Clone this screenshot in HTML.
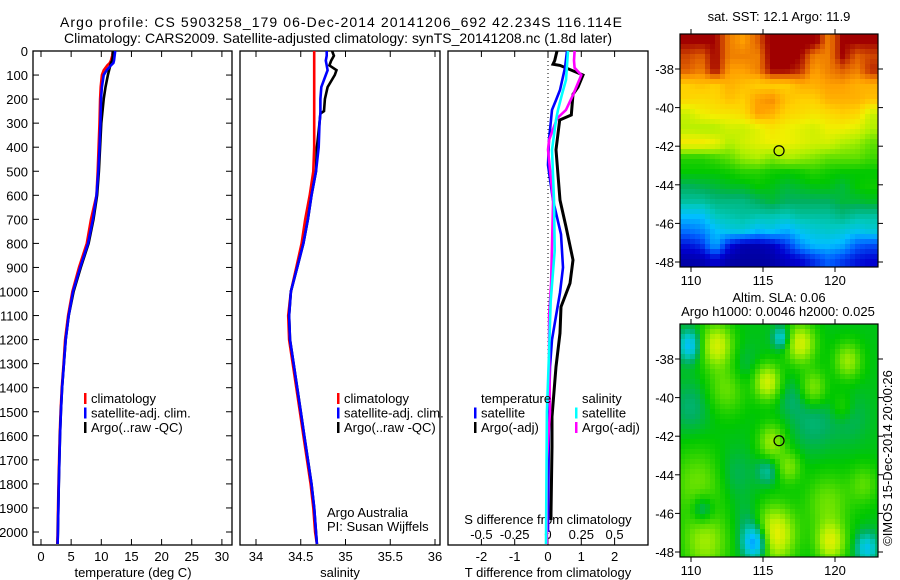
<!DOCTYPE html>
<html><head><meta charset="utf-8"><style>
html,body{margin:0;padding:0;background:#fff;}
svg{display:block;font-family:"Liberation Sans",sans-serif;}
text{font-size:13px;fill:#000;}
</style></head><body>
<svg id="chart" width="900" height="580" viewBox="0 0 900 580" xmlns="http://www.w3.org/2000/svg">
<text x="60" y="27" textLength="562" style="font-size:14px">Argo profile: CS 5903258_179 06-Dec-2014 20141206_692 42.234S 116.114E</text>
<text x="64" y="43" textLength="548" style="font-size:14px">Climatology: CARS2009. Satellite-adjusted climatology: synTS_20141208.nc (1.8d later)</text>
<g id="g"></g>
</svg>
<script>
// ---------- data ----------
const depthTicks=[0,100,200,300,400,500,600,700,800,900,1000,1100,1200,1300,1400,1500,1600,1700,1800,1900,2000];
const tempTicks=[0,5,10,15,20,25,30];
const salTicks=[34,34.5,35,35.5,36];
const tdTicks=[-2,-1,0,1,2];
const sdTicks=[-0.5,-0.25,0,0.25,0.5];
const sdTickLabels=["-0.5","-0.25","0","0.25","0.5"];
const lonTicks=[110,115,120];
const latTicks=[-38,-40,-42,-44,-46,-48];

const tDepth=[0,20,40,50,60,80,100,150,200,300,400,500,600,700,800,900,1000,1100,1200,1300,1400,1500,1600,1800,2000,2050];
const tClim=[11.9,11.8,11.6,11.4,11.0,10.4,10.1,9.9,9.8,9.7,9.55,9.4,9.2,8.3,7.6,6.3,5.2,4.5,4.0,3.75,3.45,3.25,3.1,2.9,2.75,2.7];
const tSat=[12.3,12.2,12.1,12.0,11.6,10.9,10.4,10.1,9.95,9.85,9.7,9.5,9.2,8.6,7.8,6.5,5.3,4.6,4.1,3.8,3.5,3.3,3.15,2.95,2.8,2.75];
const tArgo=[11.9,11.9,11.8,11.6,11.5,11.3,11.1,10.7,10.4,10.0,9.8,9.6,9.3,8.7,7.9,6.6,5.4,4.6,4.1,3.8,3.5,3.3,3.15,2.95,2.8,2.75];

const sDepth=[0,20,40,60,80,100,150,200,250,260,300,400,500,600,700,800,900,1000,1100,1200,1300,1400,1500,1600,1700,1800,1900,2000,2050];
const sClim=[34.65,34.65,34.65,34.65,34.65,34.65,34.65,34.65,34.65,34.65,34.65,34.65,34.64,34.6,34.55,34.51,34.45,34.39,34.36,34.37,34.41,34.45,34.49,34.53,34.57,34.61,34.64,34.66,34.68];
const sSat=[34.79,34.79,34.78,34.79,34.8,34.78,34.73,34.72,34.72,34.72,34.71,34.7,34.67,34.62,34.58,34.53,34.46,34.39,34.37,34.38,34.42,34.46,34.5,34.54,34.58,34.62,34.65,34.67,34.68];
const sArgo=[34.85,34.87,34.84,34.82,34.9,34.88,34.8,34.77,34.76,34.72,34.71,34.68,34.67,34.62,34.58,34.53,34.46,34.39,34.37,34.38,34.42,34.46,34.5,34.54,34.58,34.62,34.65,34.67,34.68];

const dTBlackDepth=[0,40,55,60,100,150,180,266,287,411,620,731,869,966,1064,1173,1313,1521,1646,1921,1950];
const dTBlack=[0.27,0.2,0.15,0.36,1.05,0.9,0.75,0.7,0.35,0.24,0.36,0.54,0.75,0.66,0.39,0.36,0.24,0.12,0.12,0.09,0.09];
const dTBlueDepth=[0,70,162,204,245,370,474,620,762,900,1005,1102,1200,1313,1500,2000];
const dTBlue=[0.57,0.51,0.36,0.24,0.12,0.03,0,0.15,0.39,0.45,0.36,0.24,0.12,0.06,0.03,0];
const dSCyanDepth=[0,120,180,245,287,411,620,830,1040,1250,1500,2050];
const dSCyan=[0.15,0.135,0.105,0.075,0.06,0.03,0.045,0.05,0.02,0.008,-0.008,-0.015];
const dSMagDepth=[0,40,70,100,180,245,280,370,410,620,966,1100,1240,1500,1700,2050];
const dSMag=[0.2,0.195,0.2,0.25,0.19,0.135,0.068,0.008,0,0.038,0.023,0.008,0.008,0.015,-0.008,-0.008];

const sstGrid=[
[.95,.95,.95,.85,.82,.88,.97,.97,.97,.97,.85,.95,.95,.95],
[.9,.88,.95,.85,.85,.85,.97,.97,.95,.85,.85,.95,.88,.9],
[.88,.85,.95,.82,.82,.85,.95,.95,.92,.82,.85,.88,.85,.92],
[.76,.78,.76,.8,.78,.76,.76,.76,.8,.8,.82,.82,.8,.8],
[.75,.74,.75,.78,.76,.82,.84,.78,.76,.76,.8,.8,.8,.78],
[.65,.7,.72,.72,.74,.82,.8,.75,.74,.72,.74,.76,.75,.65],
[.63,.62,.62,.66,.65,.68,.72,.7,.68,.66,.7,.7,.68,.62],
[.72,.72,.7,.62,.66,.68,.7,.7,.68,.66,.66,.62,.6,.55],
[.5,.5,.52,.55,.6,.62,.58,.62,.6,.58,.55,.55,.55,.52],
[.47,.47,.47,.48,.5,.5,.48,.47,.48,.5,.48,.47,.47,.47],
[.42,.43,.44,.45,.45,.47,.46,.44,.45,.46,.46,.44,.47,.48],
[.38,.38,.4,.4,.4,.42,.44,.42,.42,.42,.42,.44,.44,.45],
[.3,.3,.36,.37,.38,.37,.37,.36,.38,.38,.38,.4,.38,.38],
[.22,.24,.3,.33,.34,.3,.32,.28,.32,.34,.35,.34,.32,.34],
[.12,.15,.28,.12,.06,.06,.08,.15,.25,.3,.3,.28,.2,.18],
[.05,.06,.1,.05,.04,.04,.05,.08,.1,.15,.2,.16,.12,.1]];
const slaBlobLon=[111.8,117.6,115.3,120.9,118.5,115.6,116.8,115.8,119.7,111,112.5,110.5,119.5,122,109.9,116.3,114.5,122.2,110.8,115.3,110,118.5,113,121,113.5,117,120.5,114];
const slaBlobLat=[-37.3,-37.2,-39.2,-38.1,-39.5,-42.3,-43.6,-47.1,-47.5,-47.5,-39.5,-44.5,-45.5,-44.5,-37.3,-36.9,-47.5,-47.8,-45.8,-43.8,-40.5,-41.3,-44,-41,-38.5,-40,-40.5,-46.3];
const slaBlobR=[1.1,1.0,0.9,0.9,0.9,0.9,0.8,1.4,1.0,1.5,1.3,1.8,1.5,1.0,0.8,0.6,0.9,0.8,0.8,0.7,1.3,1.5,1.3,1.3,1.2,1.0,0.8,1.0];
const slaBlobVal=[0.66,0.66,0.66,0.6,0.58,0.6,0.57,0.7,0.66,0.6,0.56,0.56,0.56,0.54,0.3,0.32,0.2,0.32,0.34,0.38,0.41,0.41,0.42,0.42,0.42,0.42,0.52,0.42];
const argoLon=116.114, argoLat=-42.234;

// ---------- helpers ----------
const NS="http://www.w3.org/2000/svg";
const G=document.getElementById('g');
function el(tag,attrs,parent){const e=document.createElementNS(NS,tag);for(const k in attrs)e.setAttribute(k,attrs[k]);(parent||G).appendChild(e);return e;}
function txt(x,y,s,anchor,parent){const t=el('text',{x:x,y:y,'text-anchor':anchor||'start'},parent);t.textContent=s;return t;}

const PT=51, PB=545;
const yD=d=>PT+d*0.2405;
const tempX=t=>41+t*6.03;
const salX=s=>256+(s-34)*89.5;
const tdX=t=>548+t*33.3;
const sdX=s=>548+s*133.2;

function panel(x0,x1,name){
  const r=el('rect',{x:x0,y:PT,width:x1-x0,height:PB-PT,fill:'none',stroke:'#000','stroke-width':1.3});
  
  
}
function xTicks(vals,fx,labels,ly,name){
  const g=el('g',{});
  
  
  vals.forEach((v,i)=>{const x=fx(v);
    el('line',{x1:x,x2:x,y1:PT,y2:PT+6,stroke:'#000'},g);
    el('line',{x1:x,x2:x,y1:PB,y2:PB-6,stroke:'#000'},g);
    if(ly) txt(x,ly,labels?labels[i]:String(v),'middle',g);});
}
function profile(depths,vals,fx,color,name,w,dash){
  const pts=depths.map((d,i)=>fx(vals[i]).toFixed(1)+','+yD(d).toFixed(1)).join(' ');
  const p=el('polyline',{points:pts,fill:'none',stroke:color,'stroke-width':w||2.6,'stroke-linejoin':'miter'});
  if(dash)p.setAttribute('stroke-dasharray',dash);
  
  
}
function legend(x,y,items,name){
  const g=el('g',{});
  
  
  items.forEach((it,i)=>{
    if(it[0]) el('rect',{x:x,y:y+i*14.5-10,width:2.5,height:11,fill:it[0]},g);
    txt(x+7,y+i*14.5,it[1],'start',g);
  });
}

// ---------- panel 1: temperature ----------
panel(33,232,'temperature-panel');
xTicks(tempTicks,tempX,null,561,'temperature-x-axis');
{const g=el('g',{});
 depthTicks.forEach(d=>{const y=yD(d);el('line',{x1:33,x2:39,y1:y,y2:y,stroke:'#000'},g);el('line',{x1:232,x2:226,y1:y,y2:y,stroke:'#000'},g);txt(28,y+5,String(d),'end',g);});}
{const t=txt(133,577,'temperature (deg C)','middle');}
profile(tDepth,tClim,tempX,'#ff0000','temp-climatology-line');
profile(tDepth,tArgo,tempX,'#000000','temp-argo-line');
profile(tDepth,tSat,tempX,'#0000ff','temp-satellite-line');
legend(84,403,[['#ff0000','climatology'],['#0000ff','satellite-adj. clim.'],['#000000','Argo(..raw -QC)']],'temperature-legend');

// ---------- panel 2: salinity ----------
panel(240,440,'salinity-panel');
xTicks(salTicks,salX,null,561,'salinity-x-axis');
{const t=txt(340,577,'salinity','middle');}
profile(sDepth,sClim,salX,'#ff0000','sal-climatology-line');
profile(sDepth,sArgo,salX,'#000000','sal-argo-line');
profile(sDepth,sSat,salX,'#0000ff','sal-satellite-line');
legend(337,403,[['#ff0000','climatology'],['#0000ff','satellite-adj. clim.'],['#000000','Argo(..raw -QC)']],'salinity-legend');
{const t=txt(327,517,'Argo Australia');
 const t2=txt(327,531,'PI: Susan Wijffels');}

// ---------- panel 3: differences ----------
panel(448,648,'difference-panel');
xTicks(tdTicks,tdX,null,561,'t-difference-x-axis');
{const g=el('g',{});
 sdTicks.forEach((v,i)=>txt(sdX(v),539,sdTickLabels[i],'middle',g));}
{const z=el('line',{x1:548,x2:548,y1:PT+2,y2:PB,stroke:'#000','stroke-dasharray':'1,3'});}
{const t=txt(548,524,'S difference from climatology','middle');
 const t2=txt(548,577,'T difference from climatology','middle');}
profile(dTBlackDepth,dTBlack,tdX,'#000000','t-diff-argo-line',3);
profile(dTBlueDepth,dTBlue,tdX,'#0000ff','t-diff-satellite-line',2.6);
profile(dSMagDepth,dSMag,sdX,'#ff00ff','s-diff-argo-line',2.6);
profile(dSCyanDepth,dSCyan,sdX,'#00ffff','s-diff-satellite-line',2.6);
legend(474,403,[[null,'temperature'],['#0000ff','satellite'],['#000000','Argo(-adj)']],'t-diff-legend');
legend(575,403,[[null,'salinity'],['#00ffff','satellite'],['#ff00ff','Argo(-adj)']],'s-diff-legend');

// ---------- maps ----------
const MX0=680,MX1=878;
const lonX=l=>691+(l-110)*14.4;
const cmapV=[0,.1,.2,.3,.36,.42,.47,.55,.62,.7,.76,.82,.88,.95,1];
const cmapC=[[0,0,128],[0,0,208],[0,96,255],[0,192,255],[0,200,190],[0,176,96],[0,200,0],[96,224,0],[176,240,0],[240,240,0],[255,208,0],[255,160,0],[224,96,0],[160,0,0],[160,0,0]];
function cmap(v){v=Math.max(0,Math.min(1,v));let i=0;while(i<cmapV.length-2&&v>cmapV[i+1])i++;
  const f=(v-cmapV[i])/(cmapV[i+1]-cmapV[i]);const a=cmapC[i],b=cmapC[i+1];
  return 'rgb('+a.map((c,k)=>Math.round(c+(b[k]-c)*f)).join(',')+')';}

function mapFrame(MY0,MY1,latY,name){
  const g=el('g',{});
  el('rect',{x:MX0,y:MY0,width:MX1-MX0,height:MY1-MY0,fill:'none',stroke:'#000','stroke-width':1.2},g);
  lonTicks.forEach(l=>{const x=lonX(l);el('line',{x1:x,x2:x,y1:MY0,y2:MY0-5,stroke:'#000'},g);el('line',{x1:x,x2:x,y1:MY1,y2:MY1+5,stroke:'#000'},g);txt(x,MY1+18,String(l),'middle',g);});
  latTicks.forEach(la=>{const y=latY(la);el('line',{x1:MX0,x2:MX0-5,y1:y,y2:y,stroke:'#000'},g);el('line',{x1:MX1,x2:MX1+5,y1:y,y2:y,stroke:'#000'},g);txt(674,y+5,String(la),'end',g);});
  const c=el('circle',{cx:lonX(argoLon),cy:latY(argoLat),r:5,fill:'none',stroke:'#000','stroke-width':1.2});
  
}
// top SST map
const M1Y0=34,M1Y1=267;const latY1=la=>69+(-38-la)*19.3;
{const g=el('g',{});
 const R=sstGrid.length,C=sstGrid[0].length,cs=5;
 for(let y=M1Y0;y<M1Y1;y+=cs)for(let x=MX0;x<MX1;x+=cs){
   const fr=((y+cs/2-M1Y0)/(M1Y1-M1Y0))*R-0.5,fc=((x+cs/2-MX0)/(MX1-MX0))*C-0.5;
   const r0=Math.max(0,Math.min(R-1,Math.floor(fr))),r1=Math.min(R-1,r0+1),c0=Math.max(0,Math.min(C-1,Math.floor(fc))),c1=Math.min(C-1,c0+1);
   const a=Math.max(0,Math.min(1,fr-r0)),b=Math.max(0,Math.min(1,fc-c0));
   const v=(sstGrid[r0][c0]*(1-b)+sstGrid[r0][c1]*b)*(1-a)+(sstGrid[r1][c0]*(1-b)+sstGrid[r1][c1]*b)*a;
   el('rect',{x:x,y:y,width:Math.min(cs,MX1-x),height:Math.min(cs,M1Y1-y),fill:cmap(v)},g);}
}
mapFrame(M1Y0,M1Y1,latY1,'sst-map');
{const t=txt(779,21,'sat. SST: 12.1 Argo: 11.9','middle');}

// bottom SLA map
const M2Y0=324,M2Y1=557;const latY2=la=>359+(-38-la)*19.3;
{const g=el('g',{});
 const cs=5,bg=0.46;
 for(let y=M2Y0;y<M2Y1;y+=cs)for(let x=MX0;x<MX1;x+=cs){
   const lon=110+(x+cs/2-691)/14.4,lat=-38-(y+cs/2-359)/19.3;
   let v=bg;
   for(let i=0;i<slaBlobLon.length;i++){const dx=lon-slaBlobLon[i],dy=lat-slaBlobLat[i];v+=(slaBlobVal[i]-bg)*Math.exp(-(dx*dx+dy*dy)/(slaBlobR[i]*slaBlobR[i]));}
   el('rect',{x:x,y:y,width:Math.min(cs,MX1-x),height:Math.min(cs,M2Y1-y),fill:cmap(v)},g);}
}
mapFrame(M2Y0,M2Y1,latY2,'sla-map');
{const t=txt(779,302,'Altim. SLA: 0.06','middle');
 const t2=txt(778,316,'Argo h1000: 0.0046 h2000: 0.025','middle');
 const t3=txt(0,0,'©IMOS 15-Dec-2014 20:00:26','middle');t3.setAttribute('transform','translate(892,458) rotate(-90)');
 }
</script>
</body></html>
